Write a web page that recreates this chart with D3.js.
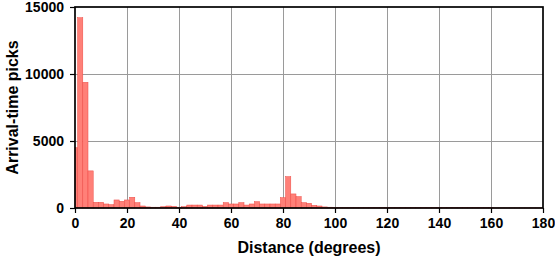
<!DOCTYPE html>
<html>
<head>
<meta charset="utf-8">
<script src="https://cdn.jsdelivr.net/npm/d3@7"></script>
<style>
  body { margin: 0; background: #fff; }
  text { font-family: "Liberation Sans", Arial, Helvetica, sans-serif; }
</style>
</head>
<body>
<div id="chart"></div>
<script>
// bin centres (degrees), 2-degree bins
const binCenters = d3.range(0, 182, 2);
const picks = [
  4500, 14200, 9380, 2770, 425, 425, 300, 250, 600, 500,
  600, 800, 400, 150, 80, 60, 60, 100, 150, 120,
  60, 100, 220, 220, 220, 120, 220, 220, 220, 400,
  300, 300, 400, 220, 300, 470, 300, 300, 300, 300,
  770, 2340, 1050, 850, 400, 350, 200, 150, 80, 60,
  50, 40, 40, 35, 35, 30, 30, 30, 30, 30,
  30, 30, 30, 25, 25, 25, 25, 25, 25, 25,
  25, 25, 25, 25, 25, 25, 20, 20, 20, 20,
  20, 15, 15, 15, 15, 15, 15, 15, 15, 15, 10
];
const xTicks = d3.range(0, 181, 20);
const yTicks = [0, 5000, 10000, 15000];
const binWidth = 2;

const width = 555, height = 258;
const margin = {top: 7, right: 12, bottom: 50, left: 75};

const svg = d3.select("#chart").append("svg")
    .attr("width", width)
    .attr("height", height);

const x = d3.scaleLinear().domain([0, 180]).range([margin.left, width - margin.right]);
const y = d3.scaleLinear().domain([0, 15000]).range([height - margin.bottom, margin.top]);

// grid
svg.append("g")
    .attr("stroke", "#9a9a9a")
    .attr("stroke-width", 1)
  .call(g => g.selectAll(".vx").data(xTicks.slice(1, -1)).join("line")
      .attr("x1", d => Math.round(x(d)) + 0.5).attr("x2", d => Math.round(x(d)) + 0.5)
      .attr("y1", y(15000)).attr("y2", y(0)))
  .call(g => g.selectAll(".hy").data(yTicks.slice(1, -1)).join("line")
      .attr("y1", d => Math.round(y(d)) + 0.5).attr("y2", d => Math.round(y(d)) + 0.5)
      .attr("x1", x(0)).attr("x2", x(180)));

// bars
const bins = binCenters.map((c, i) => ({
  x0: Math.max(0, c - binWidth / 2),
  x1: Math.min(180, c + binWidth / 2),
  value: picks[i]
}));

svg.append("g")
  .selectAll("rect")
  .data(bins)
  .join("rect")
    .attr("x", d => x(d.x0))
    .attr("width", d => x(d.x1) - x(d.x0))
    .attr("y", d => y(d.value))
    .attr("height", d => y(0) - y(d.value))
    .attr("fill", "#ff8078")
    .attr("stroke", "#ee4a44")
    .attr("stroke-width", 0.5);

// axes
const xAxis = d3.axisBottom(x).tickValues(xTicks).tickSize(5).tickPadding(5).tickFormat(d3.format("d"));
const yAxis = d3.axisLeft(y).tickValues(yTicks).tickSize(5).tickPadding(6).tickFormat(d3.format("d"));

const styleTicks = g => {
  g.select(".domain").remove();
  g.selectAll("line").attr("stroke", "#000").attr("stroke-width", 1.2);
  g.selectAll("text").attr("font-size", 14).attr("font-weight", "bold").attr("fill", "#000")
    .attr("font-family", "Liberation Sans, Arial, sans-serif");
};

svg.append("g")
    .attr("transform", `translate(0,${y(0)})`)
    .call(xAxis)
    .call(styleTicks);

svg.append("g")
    .attr("transform", `translate(${x(0)},0)`)
    .call(yAxis)
    .call(styleTicks);

// frame
svg.append("rect")
    .attr("x", x(0))
    .attr("y", y(15000))
    .attr("width", x(180) - x(0))
    .attr("height", y(0) - y(15000))
    .attr("fill", "none")
    .attr("stroke", "#000")
    .attr("stroke-width", 1.7);

// labels
svg.append("text")
    .attr("x", (x(0) + x(180)) / 2)
    .attr("y", 253)
    .attr("text-anchor", "middle")
    .attr("font-size", 16)
    .attr("font-weight", "bold")
    .text("Distance (degrees)");

svg.append("text")
    .attr("transform", `translate(18,${(y(0) + y(15000)) / 2}) rotate(-90)`)
    .attr("text-anchor", "middle")
    .attr("font-size", 16)
    .attr("font-weight", "bold")
    .text("Arrival-time picks");
</script>
</body>
</html>
